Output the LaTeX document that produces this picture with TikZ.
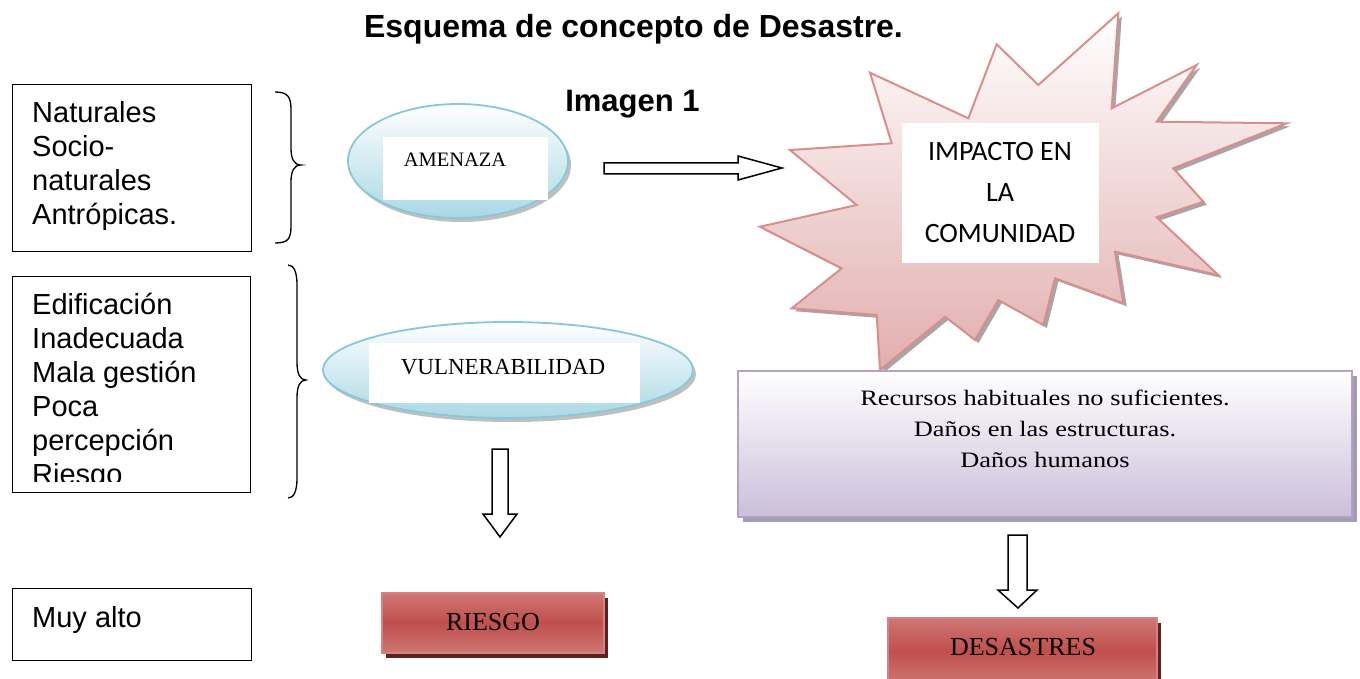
\documentclass[tikz,border=0pt]{standalone}
\usepackage{fontspec}
\setmainfont{Liberation Serif}
\newfontfamily\arialf{Liberation Sans}
\newfontfamily\calibrif{Carlito}
\usetikzlibrary{shapes.geometric,shadows}

\definecolor{redlight}{HTML}{DC9C9A}
\definecolor{reddark}{HTML}{C0504D}
\definecolor{redshadow}{HTML}{5E2120}
\definecolor{starline}{HTML}{D98E8C}
\definecolor{starfill}{HTML}{E2AEAE}
\definecolor{cyanline}{HTML}{86C8DA}
\definecolor{cyanfill}{HTML}{AAD8E5}
\definecolor{purpline}{HTML}{B3A2C7}
\definecolor{purpfill}{HTML}{CBBFDA}
\definecolor{purpshadow}{HTML}{A59CB3}

\pgfdeclareverticalshading{redbar}{100bp}{color(0bp)=(redlight); color(50bp)=(reddark); color(100bp)=(redlight)}

\begin{document}
\begin{tikzpicture}[x=1pt,y=-1pt,
  plainbox/.style={draw=black, line width=1.4pt, fill=white, inner sep=0pt},
  listtext/.style={anchor=north west, align=left, inner sep=0pt, font=\arialf\fontsize{29}{34}\selectfont},
  bracepath/.style={draw=black, line width=1.3pt},
  blockarrow/.style={draw=black, line width=1.5pt, fill=white, line join=miter},
  bubble/.style={ellipse, draw=cyanline, line width=1.8pt, top color=white, bottom color=cyanfill, drop shadow={shadow xshift=3pt, shadow yshift=-4pt, fill=black, opacity=.25}},
  whitelabel/.style={fill=white, inner sep=0pt},
  timestext/.style={inner sep=0pt, anchor=base},
  redbox/.style={draw=reddark!70!white, line width=1.5pt, shading=redbar, inner sep=0pt, drop shadow={shadow xshift=4pt, shadow yshift=-5pt, fill=redshadow, opacity=1}},
]
\useasboundingbox (0,0) rectangle (1360,679);

% title
\node[anchor=base, inner sep=0pt, font=\arialf\bfseries\fontsize{32}{38}\selectfont] (title) at (633.5,38) {Esquema de concepto de Desastre.};
\node[anchor=base, inner sep=0pt, font=\arialf\bfseries\fontsize{31}{38}\selectfont] (imagen) at (632.5,112) {Imagen 1};

% left boxes
\node[plainbox, anchor=north west, minimum width=239, minimum height=167] (box1) at (12,84) {};
\node[listtext] (t1) at (32,101.5) {Naturales\\Socio-\\naturales\\Antrópicas.};
\node[plainbox, anchor=north west, minimum width=238, minimum height=216] (box2) at (12,276) {};
\begin{scope}
\clip (14,278) rectangle (248,481);
\node[listtext] (t2) at (32,292.5) {Edificación\\Inadecuada\\Mala gestión\\Poca\\percepción\\Riesgo};
\end{scope}
\node[plainbox, anchor=north west, minimum width=239, minimum height=72] (box3) at (12,588) {};
\node[listtext] (t3) at (32,606.5) {Muy alto};

% braces
\draw[bracepath] (275,92) .. controls (288,92) and (291,97) .. (291,110) -- (291,148) .. controls (291,159) and (294,165) .. (301,165) .. controls (294,165) and (291,171) .. (291,182) -- (291,226) .. controls (291,239) and (288,243) .. (275,243);
\draw[bracepath] (288,265) .. controls (294,265) and (297,272) .. (297,285) -- (297,362) .. controls (297,374) and (300,380) .. (306,380) .. controls (300,380) and (297,386) .. (297,398) -- (297,478) .. controls (297,491) and (294,498) .. (288,498);

% AMENAZA
\node[bubble, minimum width=220, minimum height=114] (amenaza) at (458,161) {};
\node[whitelabel, minimum width=165, minimum height=63] (amenazabox) at (465.5,168.5) {};
\node[timestext, font=\fontsize{20.5}{24}\selectfont] (amenazatext) at (455,167) {AMENAZA};

% VULNERABILIDAD
\node[bubble, minimum width=370, minimum height=96] (vulner) at (508,370) {};
\node[whitelabel, minimum width=271, minimum height=60] (vulnerbox) at (504.5,373) {};
\node[timestext, font=\fontsize{23}{27}\selectfont] (vulnertext) at (503,374) {VULNERABILIDAD};

% horizontal block arrow
\draw[blockarrow] (604,163) -- (738,163) -- (738,156) -- (782,168) -- (738,180) -- (738,174) -- (604,174) -- cycle;

% star
\fill[black, opacity=.35, shift={(3.5,3)}] (870,72.7) -- (968.3,118.3) -- (996.7,44.3) -- (1038.3,85) -- (1118.3,13.3) -- (1111.7,108.3) -- (1196.7,65) -- (1156.7,121.7) -- (1286.7,123.3) -- (1173.3,168.3) -- (1203.3,201.7) -- (1156.7,217.3) -- (1218.3,275) -- (1115,251.7) -- (1123.3,303.3) -- (1055,278.3) -- (1043.3,325) -- (998.3,300) -- (975,340) -- (945,316.7) -- (880,370) -- (876.7,315) -- (791.7,308.3) -- (841.7,268.3) -- (760,226.7) -- (856.7,205) -- (790,150) -- (891.7,143.3) -- cycle;
\draw[draw=starline, line width=2pt, top color=white, bottom color=starfill, line join=miter] (870,72.7) -- (968.3,118.3) -- (996.7,44.3) -- (1038.3,85) -- (1118.3,13.3) -- (1111.7,108.3) -- (1196.7,65) -- (1156.7,121.7) -- (1286.7,123.3) -- (1173.3,168.3) -- (1203.3,201.7) -- (1156.7,217.3) -- (1218.3,275) -- (1115,251.7) -- (1123.3,303.3) -- (1055,278.3) -- (1043.3,325) -- (998.3,300) -- (975,340) -- (945,316.7) -- (880,370) -- (876.7,315) -- (791.7,308.3) -- (841.7,268.3) -- (760,226.7) -- (856.7,205) -- (790,150) -- (891.7,143.3) -- cycle;
\node[whitelabel, minimum width=197.6, minimum height=139.4] (impactobox) at (1000.5,193) {};
\node[anchor=north, align=center, inner sep=0pt, font=\calibrif\fontsize{28}{41}\selectfont] (impactotext) at (1000,142) {IMPACTO EN\\LA\\COMUNIDAD};

% effects box
\node[draw=purpline, line width=2pt, top color=white, bottom color=purpfill, minimum width=614, minimum height=146, inner sep=0pt, drop shadow={shadow xshift=5pt, shadow yshift=-5pt, fill=purpshadow, opacity=1}] (effects) at (1045,444) {};
\node[anchor=base, inner sep=0pt] (effectstext) at (1045,405) {\scalebox{1.2}[1]{\fontsize{22}{31}\selectfont\begin{tabular}[t]{@{}c@{}}Recursos habituales no suficientes.\\Daños en las estructuras.\\Daños humanos\end{tabular}}};

% down arrows
\draw[blockarrow] (492,449) -- (508,449) -- (508,514) -- (517,514) -- (500,537) -- (483,514) -- (492,514) -- cycle;
\draw[blockarrow] (1008,535) -- (1027,535) -- (1027,590) -- (1037,590) -- (1018,608) -- (998,590) -- (1008,590) -- cycle;

% red boxes
\node[redbox, minimum width=222, minimum height=60] (riesgo) at (493,623) {};
\node[timestext, font=\fontsize{26}{30}\selectfont] (riesgotext) at (493,630) {RIESGO};
\node[redbox, minimum width=269, minimum height=66] (desastres) at (1022.5,651) {};
\node[timestext, font=\fontsize{26}{30}\selectfont] (desastrestext) at (1023,655) {DESASTRES};
\end{tikzpicture}
\end{document}
